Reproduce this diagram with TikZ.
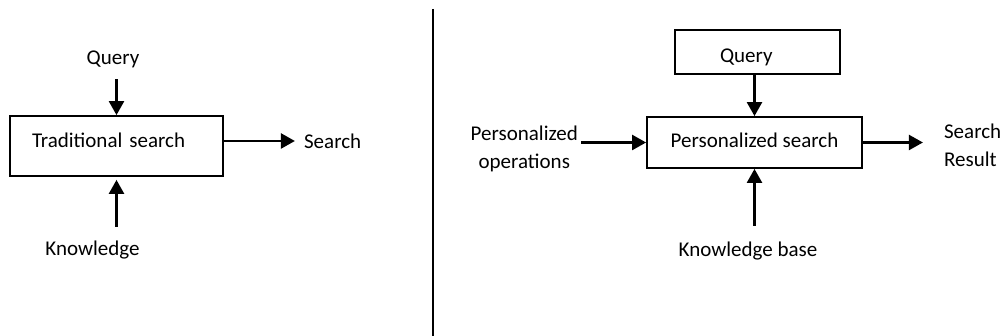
\documentclass[tikz,border=0pt]{standalone}
\usepackage{fontspec}
\setmainfont{Carlito}
\usetikzlibrary{arrows.meta,positioning}

\begin{document}
\begin{tikzpicture}[x=1pt, y=1pt,
        box/.style={draw=black, line width=1.8pt, inner sep=0pt, font=\fontsize{21pt}{28pt}\selectfont},
        lbl/.style={inner sep=0pt, font=\fontsize{21pt}{28pt}\selectfont},
        arrow/.style={-{Triangle[length=14pt, width=15pt]}, line width=2.4pt},
        divider/.style={line width=1.5pt}
    ]
        \useasboundingbox (0,0) rectangle (1002,336);

        \node[box, minimum width=213pt, minimum height=60pt, text width=169pt, align=left, text depth=12pt] (trad) at (116.5,190) {Traditional search};
        \node[lbl, above=47pt of trad, xshift=-3.5pt] (tquery) {Query};
        \node[lbl, below=64pt of trad, xshift=-24pt] (tknow) {Knowledge};
        \node[lbl, right=80pt of trad, yshift=5pt] (tres) {Search};

        \draw[divider] (433,327) -- (433,0);

        \node[box, minimum width=215pt, minimum height=51pt, text depth=5pt] (pers) at (754.5,193.5) {Personalized search};
        \node[box, minimum width=165pt, minimum height=44pt, text width=75pt, align=left, text height=24pt, above=41pt of pers, xshift=3pt] (pquery) {Query};
        \node[lbl, align=center, left=68pt of pers, yshift=-6.5pt] (pops) {Personalized\\operations};
        \node[lbl, align=left, right=81pt of pers, yshift=-3pt] (pres) {Search\\Result};
        \node[lbl, below=73pt of pers, xshift=-6.5pt] (pknow) {Knowledge base};

        \draw[arrow, shorten <=11pt] (tquery.south -| trad.north) -- (trad.north);
        \draw[arrow, shorten <=14pt, shorten >=3pt] (tknow.north -| trad.south) -- (trad.south);
        \draw[arrow, shorten >=9pt] (trad.east |- tres.west) -- (tres.west);
        \draw[arrow] (pquery.south -| pers.north) -- (pers.north);
        \draw[arrow, shorten <=3pt] (pops.east |- pers.west) -- (pers.west);
        \draw[arrow, shorten >=21pt] (pers.east) -- (pers.east -| pres.west);
        \draw[arrow, shorten <=16pt] (pknow.north -| pers.south) -- (pers.south);
    \end{tikzpicture}
\end{document}
